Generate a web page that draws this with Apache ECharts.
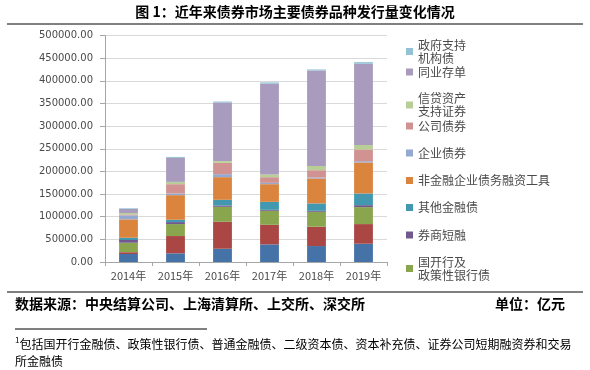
<!DOCTYPE html>
<html><head><meta charset="utf-8">
<script src="https://cdn.jsdelivr.net/npm/echarts@6/dist/echarts.min.js"></script>
<style>html,body{margin:0;padding:0;background:#fff;}#c{width:590px;height:370px;}</style>
</head><body><div id="c"></div>
<script>
var years = ['2014年','2015年','2016年','2017年','2018年','2019年'];
var yTicks = [0,50000,100000,150000,200000,250000,300000,350000,400000,450000,500000];
var guozhai = [17600, 19100, 29300, 38900, 35200, 40400];
var difangzhai = [4000, 38200, 59500, 43200, 42600, 43300];
var guokaiZhengce = [21000, 26400, 33000, 30900, 33000, 37400];
var quanshangDuanrong = [6000, 4400, 3000, 2200, 2200, 4400];
var qitaJinrong = [5000, 5100, 12500, 17600, 16300, 25800];
var feijinrong = [40500, 54400, 50000, 39000, 55000, 68300];
var qiyeZhai = [9000, 3700, 6600, 2900, 2200, 2900];
var gongsiZhai = [2000, 20500, 25000, 12500, 16100, 25700];
var xindaiABS = [3000, 5100, 3800, 6000, 9500, 10200];
var tongyeCundan = [9000, 52900, 129300, 200400, 210800, 179200];
var zhengfuZhichi = [1500, 2200, 2200, 2900, 2200, 3600];

var seriesDefs = [
  ['国债', guozhai, '#4572A7'],
  ['地方政府债', difangzhai, '#AA4643'],
  ['国开行及\n政策性银行债', guokaiZhengce, '#89A54E'],
  ['券商短融', quanshangDuanrong, '#71588F'],
  ['其他金融债', qitaJinrong, '#4198AF'],
  ['非金融企业债务融资工具', feijinrong, '#DB843D'],
  ['企业债券', qiyeZhai, '#93A9CF'],
  ['公司债券', gongsiZhai, '#D19392'],
  ['信贷资产\n支持证券', xindaiABS, '#B9CD96'],
  ['同业存单', tongyeCundan, '#A99BBD'],
  ['政府支持\n机构债', zhengfuZhichi, '#91C3D5']
];
var legendPos = [
  ['政府支持\n机构债', 45, 2],
  ['同业存单', 72, 1],
  ['信贷资产\n支持证券', 98.5, 2],
  ['公司债券', 126, 1],
  ['企业债券', 153, 1],
  ['非金融企业债务融资工具', 180.5, 1],
  ['其他金融债', 207.5, 1],
  ['券商短融', 235, 1],
  ['国开行及\n政策性银行债', 262, 2]
];
var LH = 13;
var legends = legendPos.map(function(l){
  var h = l[2] === 2 ? 3*LH : LH;
  return {
    data: [l[0]], left: 406, top: l[1] - h/2, orient: 'vertical', padding: 0,
    itemWidth: 7, itemHeight: 7, icon: 'rect', itemGap: 0,
    textStyle: { fontSize: 12, color: '#4a4a4a', fontFamily: 'Noto Sans CJK SC', lineHeight: LH,
      padding: l[2] === 2 ? [LH*2, 0, 0, 0] : 0 }
  };
});

var series = seriesDefs.map(function(s){
  return { name: s[0], type: 'bar', stack: 'all', data: s[1], barWidth: '40%',
    itemStyle: { color: s[2] }, emphasis: { disabled: true } };
});

var chart = echarts.init(document.getElementById('c'));
chart.setOption({
  animation: false,
  textStyle: { fontFamily: 'Noto Sans CJK SC' },
  legend: legends,
  grid: { left: 105, right: 203, top: 35.5, bottom: 108, containLabel: false },
  xAxis: { type: 'category', data: years,
    axisLine: { lineStyle: { color: '#A6A6A6' } },
    axisTick: { show: true, length: 4, lineStyle: { color: '#A6A6A6' } },
    axisLabel: { color: '#4a4a4a', fontSize: 11, margin: 8, fontFamily: 'Noto Sans CJK SC' } },
  yAxis: { type: 'value', min: 0, max: 500000, interval: 50000,
    axisLine: { show: true, lineStyle: { color: '#A6A6A6' } },
    axisTick: { show: true, length: 5, lineStyle: { color: '#A6A6A6' } },
    splitLine: { lineStyle: { color: '#D9D9D9' } },
    axisLabel: { color: '#4a4a4a', fontSize: 10, margin: 12, fontFamily: 'DejaVu Sans',
      formatter: function(v){ return yTicks.indexOf(v) >= 0 ? v.toFixed(2) : ''; } } },
  series: series,
  graphic: [
    { type: 'text', left: 'center', top: 5, style: { text: '图 1：近年来债券市场主要债券品种发行量变化情况',
      font: 'bold 14px "Noto Sans CJK SC"', fill: '#000' } },
    { type: 'line', shape: { x1: 7, y1: 24, x2: 583, y2: 24 }, style: { stroke: '#000', lineWidth: 1 } },
    { type: 'line', shape: { x1: 7, y1: 292, x2: 583, y2: 292 }, style: { stroke: '#000', lineWidth: 1 } },
    { type: 'text', x: 15, y: 304, style: { text: '数据来源：中央结算公司、上海清算所、上交所、深交所',
      font: 'bold 14px "Noto Sans CJK SC"', fill: '#000', textVerticalAlign: 'middle' } },
    { type: 'text', x: 565, y: 304, style: { text: '单位：亿元', textAlign: 'right',
      font: 'bold 14px "Noto Sans CJK SC"', fill: '#000', textVerticalAlign: 'middle' } },
    { type: 'line', shape: { x1: 15, y1: 329, x2: 207, y2: 329 }, style: { stroke: '#000', lineWidth: 1 } },
    { type: 'text', x: 15, y: 336, style: {
      text: '{s|1}{n|包括国开行金融债、政策性银行债、普通金融债、二级资本债、资本补充债、证券公司短期融资券和交易}\n{n|所金融债}',
      rich: { s: { fontSize: 8, verticalAlign: 'top', fill: '#000', fontFamily: 'Noto Sans CJK SC', lineHeight: 17 },
              n: { fontSize: 12, fill: '#000', fontFamily: 'Noto Sans CJK SC', lineHeight: 17 } } } }
  ]
});
</script>
</body></html>
